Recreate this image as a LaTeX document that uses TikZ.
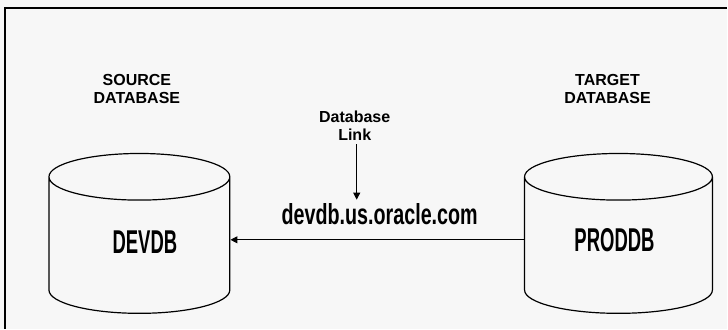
\documentclass[tikz,border=0pt]{standalone}
\usepackage{fontspec}
\setmainfont{Liberation Sans}
\usetikzlibrary{shapes.geometric,arrows.meta}
\newcommand{\squeeze}[2]{\scalebox{#1}[1]{#2}}

\begin{document}
\begin{tikzpicture}[x=1pt,y=-1pt,
	db/.style={cylinder,shape border rotate=90,draw,line width=1.2pt,aspect=7,minimum height=160pt},
	dbname/.style={font=\fontsize{33}{33}\selectfont\bfseries},
	caption/.style={font=\fontsize{16}{18}\selectfont\bfseries,align=center},
	linkarrow/.style={-{Triangle[length=7pt,width=7pt]},line width=1pt}]
		\fill[black!3] (0,0) rectangle (728,329);
		\draw[line width=1.2pt] (5,329) -- (5,8) -- (728,8);
		\useasboundingbox (0,0) rectangle (728,329);

		\node[db,minimum width=181pt,anchor=north] (dev) at (139.5,153) {};
		\node[db,minimum width=188pt,anchor=north] (prod) at (619,153) {};
		\node[dbname] (devname) at (145,242) {\squeeze{0.56}{DEVDB}};
		\node[dbname] (prodname) at (615,240) {\squeeze{0.56}{PRODDB}};

		\node[caption] (source) at (137,89) {SOURCE\\DATABASE};
		\node[caption] (target) at (608,89) {TARGET\\DATABASE};
		\node[caption] (link) at (355,126) {Database\\Link};
		\node[font=\fontsize{29}{29}\selectfont\bfseries] (url) at (380,214) {\squeeze{0.68}{devdb.us.oracle.com}};

		\draw[linkarrow] (link.south -| 357,0) -- (url.north -| 357,0);
		\draw[linkarrow] (prod.west |- prodname) -- (dev.east |- prodname);
	\end{tikzpicture}
\end{document}
